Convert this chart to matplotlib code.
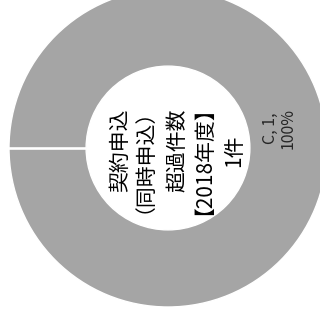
import matplotlib
matplotlib.use('Agg')
import matplotlib.pyplot as plt
import numpy as np

plt.rcParams['font.family'] = ['Noto Sans CJK JP', 'DejaVu Sans']

categories = ['C']
values = [1]
center_lines = ['契約申込', '（同時申込）', '超過件数', '【2018年度】', '1件']

fig = plt.figure(figsize=(3.2, 3.27), dpi=100)
# centre of the ring sits at about (168, 148) px, outer radius ~159 px
ax = fig.add_axes([9 / 320, 20 / 327, 318 / 320, 318 / 327])
ax.axis('off')

total = sum(values)
ring_width = 0.485
wedges, _ = ax.pie(values, radius=1, startangle=180, counterclock=False,
                   colors=['#a5a5a5'],
                   wedgeprops=dict(width=ring_width, edgecolor='white', linewidth=1.0))
ax.set_xlim(-1, 1)
ax.set_ylim(-1, 1)
ax.set_aspect('equal')

# slice border along the start angle (a full ring has no radial edge of its own)
a = np.deg2rad(wedges[0].theta2)
r = np.array([1 - ring_width, 1.01])
ax.plot(r * np.cos(a), r * np.sin(a), color='white', lw=1.9, solid_capstyle='butt')

for cat, v in zip(categories, values):
    ax.text(0.70, 0.125, f'{cat}, {v},\n{v / total:.0%}', rotation=90,
            rotation_mode='anchor', ha='center', va='center', fontsize=11.5,
            color='#262626', linespacing=1.1)

# one text per line; lines with full-width brackets render shifted when
# rotated, so they get a small nudge back
step = 0.179
nudge = [0, -0.092, 0, -0.075, 0]
for i, line in enumerate(center_lines):
    ax.text(0.094 + (i - 2) * step + nudge[i], -0.015, line, rotation=90,
            rotation_mode='anchor', ha='center', va='baseline',
            fontsize=15, color='black')

fig.savefig('out.png', dpi=100)
